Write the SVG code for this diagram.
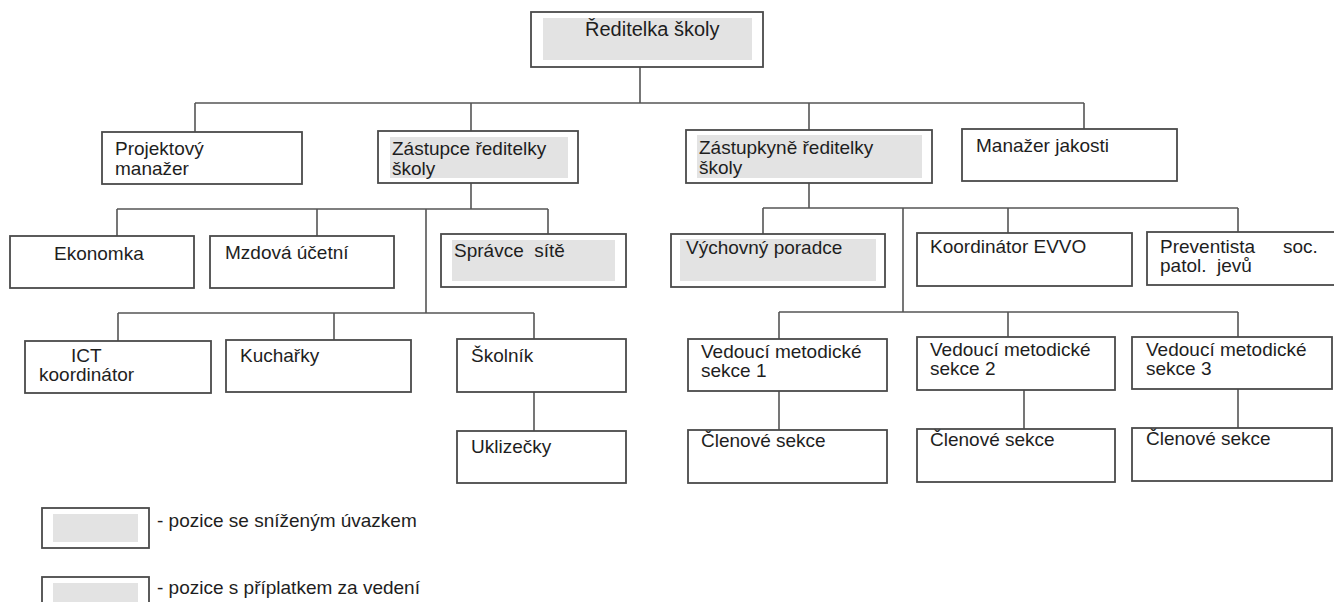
<svg xmlns="http://www.w3.org/2000/svg" width="1334" height="602" viewBox="0 0 1334 602">
<style>
.box{fill:#fff;stroke:#4a4a4a;stroke-width:1.8}
.sh{fill:#e3e3e3;stroke:none}
.t{font-family:"Liberation Sans",Arial,sans-serif;font-size:19px;fill:#1e1e1e}
.c{fill:none;stroke:#555;stroke-width:1.6}
</style>
<rect width="1334" height="602" fill="#fff"/>
<g id="connectors" class="c">
<path d="M640 67V103M195 103H1084M195 103V132M471 103V131M809 103V130M1084 103V129"/>
<path d="M471 183V209M117 209H548M117 209V236M317 209V236M548 209V234M426 209V313"/>
<path d="M118 313H534M118 313V341M334 313V340M534 313V339M534 392V431"/>
<path d="M809 183V208M763 208H1238M763 208V234M1008 208V233M1238 208V232M903 208V312"/>
<path d="M779 312H1238M779 312V339M1008 312V337M1238 312V337"/>
<path d="M779 391V430M1024 390V429M1238 389V428"/>
</g>
<g id="n-reditelka"><rect class="box" x="531" y="12" width="232" height="55"/><rect class="sh" x="543" y="18" width="209" height="42"/><text class="t" x="585" y="36" style="font-size:20px">Ředitelka školy</text></g>
<g id="n-projektovy"><rect class="box" x="102" y="132" width="200" height="52"/><text class="t" x="115" y="155">Projektový</text><text class="t" x="115" y="175">manažer</text></g>
<g id="n-zastupce"><rect class="box" x="378" y="131" width="200" height="52"/><rect class="sh" x="390" y="137" width="178" height="41"/><text class="t" x="392" y="155">Zástupce ředitelky</text><text class="t" x="392" y="175">školy</text></g>
<g id="n-zastupkyne"><rect class="box" x="686" y="130" width="246" height="53"/><rect class="sh" x="697" y="135" width="225" height="43"/><text class="t" x="699" y="154">Zástupkyně ředitelky</text><text class="t" x="699" y="174">školy</text></g>
<g id="n-manazer-jakosti"><rect class="box" x="962" y="129" width="215" height="52"/><text class="t" x="976" y="152">Manažer jakosti</text></g>
<g id="n-ekonomka"><rect class="box" x="10" y="236" width="184" height="52"/><text class="t" x="54" y="260">Ekonomka</text></g>
<g id="n-mzdova"><rect class="box" x="210" y="236" width="184" height="52"/><text class="t" x="225" y="259">Mzdová účetní</text></g>
<g id="n-spravce"><rect class="box" x="441" y="234" width="185" height="53"/><rect class="sh" x="452" y="240" width="163" height="41"/><text class="t" x="454" y="257" xml:space="preserve">Správce  sítě</text></g>
<g id="n-ict"><rect class="box" x="25" y="341" width="186" height="52"/><text class="t" x="71" y="362">ICT</text><text class="t" x="39" y="381">koordinátor</text></g>
<g id="n-kucharky"><rect class="box" x="226" y="340" width="185" height="52"/><text class="t" x="240" y="362">Kuchařky</text></g>
<g id="n-skolnik"><rect class="box" x="457" y="339" width="169" height="53"/><text class="t" x="471" y="362">Školník</text></g>
<g id="n-uklizecky"><rect class="box" x="457" y="431" width="169" height="52"/><text class="t" x="471" y="453">Uklizečky</text></g>
<g id="n-vychovny"><rect class="box" x="671" y="234" width="214" height="53"/><rect class="sh" x="680" y="239" width="196" height="42"/><text class="t" x="686" y="254">Výchovný poradce</text></g>
<g id="n-evvo"><rect class="box" x="917" y="233" width="215" height="53"/><text class="t" x="930" y="253">Koordinátor EVVO</text></g>
<g id="n-preventista"><rect class="box" x="1147" y="232" width="200" height="53"/><text class="t" x="1160" y="253">Preventista<tspan x="1283">soc.</tspan></text><text class="t" x="1160" y="272" xml:space="preserve">patol.  jevů</text></g>
<g id="n-vedouci1"><rect class="box" x="688" y="339" width="199" height="52"/><text class="t" x="701" y="358">Vedoucí metodické</text><text class="t" x="701" y="377">sekce 1</text></g>
<g id="n-vedouci2"><rect class="box" x="917" y="337" width="198" height="53"/><text class="t" x="930" y="356">Vedoucí metodické</text><text class="t" x="930" y="375">sekce 2</text></g>
<g id="n-vedouci3"><rect class="box" x="1132" y="337" width="200" height="52"/><text class="t" x="1146" y="356">Vedoucí metodické</text><text class="t" x="1146" y="375">sekce 3</text></g>
<g id="n-clenove1"><rect class="box" x="688" y="430" width="199" height="53"/><text class="t" x="701" y="447">Členové sekce</text></g>
<g id="n-clenove2"><rect class="box" x="917" y="429" width="198" height="53"/><text class="t" x="930" y="446">Členové sekce</text></g>
<g id="n-clenove3"><rect class="box" x="1132" y="428" width="200" height="53"/><text class="t" x="1146" y="445">Členové sekce</text></g>
<g id="legend">
<rect class="box" x="42" y="508" width="107" height="40"/><rect class="sh" x="53" y="514" width="85" height="28"/>
<text class="t" x="157" y="527">- pozice se sníženým úvazkem</text>
<rect class="box" x="42" y="577" width="107" height="40"/><rect class="sh" x="53" y="583" width="85" height="28"/>
<text class="t" x="157" y="594">- pozice s příplatkem za vedení</text>
</g>
</svg>
